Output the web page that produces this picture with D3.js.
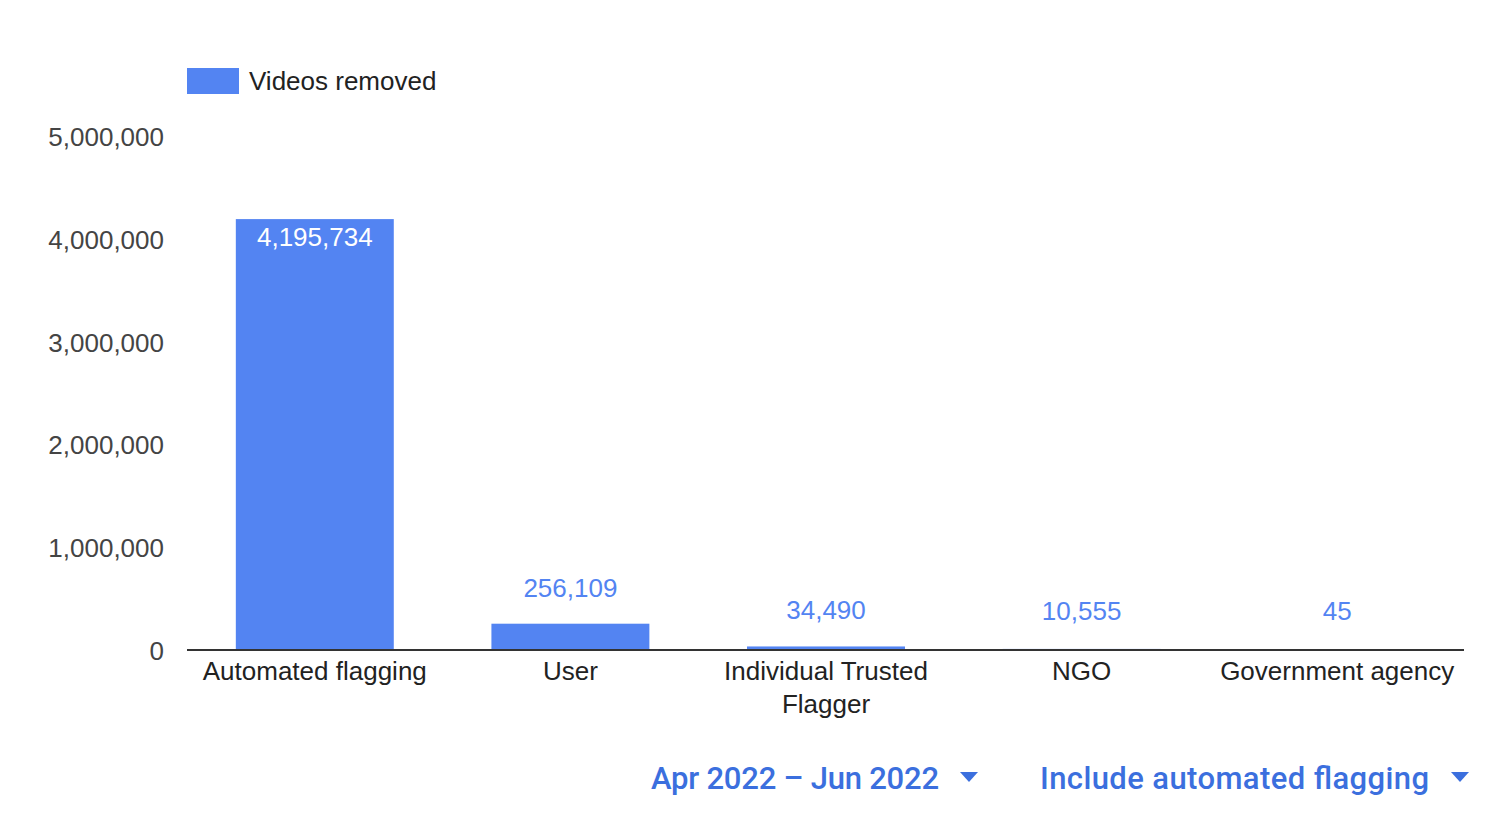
<!DOCTYPE html>
<html><head><meta charset="utf-8">
<script src="https://cdn.jsdelivr.net/npm/d3@7"></script>
<style>body{margin:0;background:#fff;}svg{display:block;}</style>
</head><body>
<svg id="c" width="1494" height="832"></svg>
<script>
const categories = ["Automated flagging", "User", "Individual Trusted Flagger", "NGO", "Government agency"];
const categoryLines = [["Automated flagging"], ["User"], ["Individual Trusted", "Flagger"], ["NGO"], ["Government agency"]];
const videosRemoved = [4195734, 256109, 34490, 10555, 45];
const yTicks = [0, 1000000, 2000000, 3000000, 4000000, 5000000];
const seriesName = "Videos removed";
const controls = ["Apr 2022 – Jun 2022", "Include automated flagging"];

(function () {
const svg = d3.select("#c");
const pLeft = 187, pRight = 1465, pTop = 136.5, pBottom = 650;
const barColor = "#5384f2";
const font = "Arial, 'Liberation Sans', sans-serif";
const fs = 26;

const x = d3.scaleBand().domain(categories).range([pLeft, pRight]).paddingInner(0.382).paddingOuter(0.191);
const y = d3.scaleLinear().domain([0, 5000000]).range([pBottom, pTop]);
const fmt = d3.format(",");

// legend
svg.append("rect").attr("x", 187).attr("y", 68).attr("width", 52).attr("height", 26).attr("fill", barColor);
svg.append("text").attr("x", 249).attr("y", 90).attr("font-family", font).attr("font-size", fs).attr("fill", "#222").text(seriesName);

// y axis labels
const yAxis = d3.axisLeft(y).tickValues(yTicks).tickFormat(fmt).tickSize(0).tickPadding(0);
const ya = svg.append("g").attr("transform", `translate(164,0)`).call(yAxis);
ya.select(".domain").remove();
ya.selectAll("text").attr("font-family", font).attr("font-size", fs).attr("fill", "#444").attr("dy", "0.35em");

// bars
svg.selectAll("rect.bar").data(videosRemoved).join("rect").attr("class", "bar")
  .attr("x", (d, i) => x(categories[i]))
  .attr("width", x.bandwidth())
  .attr("y", d => y(d))
  .attr("height", d => pBottom - y(d))
  .attr("fill", barColor);

// value labels
svg.selectAll("text.val").data(videosRemoved).join("text").attr("class", "val")
  .attr("x", (d, i) => x(categories[i]) + x.bandwidth() / 2)
  .attr("y", d => {
    const yy = y(d);
    return (pBottom - yy) > 60 ? yy + 27 : Math.min(yy, pBottom - 3) - 27;
  })
  .attr("text-anchor", "middle").attr("font-family", font).attr("font-size", fs)
  .attr("fill", d => (pBottom - y(d)) > 60 ? "#fff" : barColor)
  .text(d => fmt(d));

// baseline axis
svg.append("line").attr("x1", pLeft).attr("x2", pRight - 1).attr("y1", pBottom).attr("y2", pBottom).attr("stroke", "#333").attr("stroke-width", 2);

// category labels
const xa = svg.append("g");
categories.forEach((c, i) => {
  const cx = x(c) + x.bandwidth() / 2;
  const t = xa.append("text").attr("x", cx).attr("y", 680)
    .attr("text-anchor", "middle").attr("font-family", font).attr("font-size", fs).attr("fill", "#222");
  categoryLines[i].forEach((l, j) => {
    t.append("tspan").attr("x", cx).attr("dy", j === 0 ? 0 : 33).text(l);
  });
});

// bottom controls
const ctlColor = "#3b6fde";
const cfont = "Roboto, 'Noto Sans', sans-serif";
svg.append("text").attr("x", 651).attr("y", 789).attr("font-family", cfont).attr("font-weight", 500).attr("font-size", 31)
  .attr("textLength", 288).attr("lengthAdjust", "spacing").attr("fill", ctlColor).text(controls[0]);
svg.append("path").attr("d", "M960,772 L978,772 L969,782 Z").attr("fill", ctlColor);
svg.append("text").attr("x", 1040).attr("y", 789).attr("font-family", cfont).attr("font-weight", 500).attr("font-size", 31)
  .attr("textLength", 389).attr("lengthAdjust", "spacing").attr("fill", ctlColor).text(controls[1]);
svg.append("path").attr("d", "M1451,772 L1469,772 L1460,782 Z").attr("fill", ctlColor);
})();
</script>
</body></html>
